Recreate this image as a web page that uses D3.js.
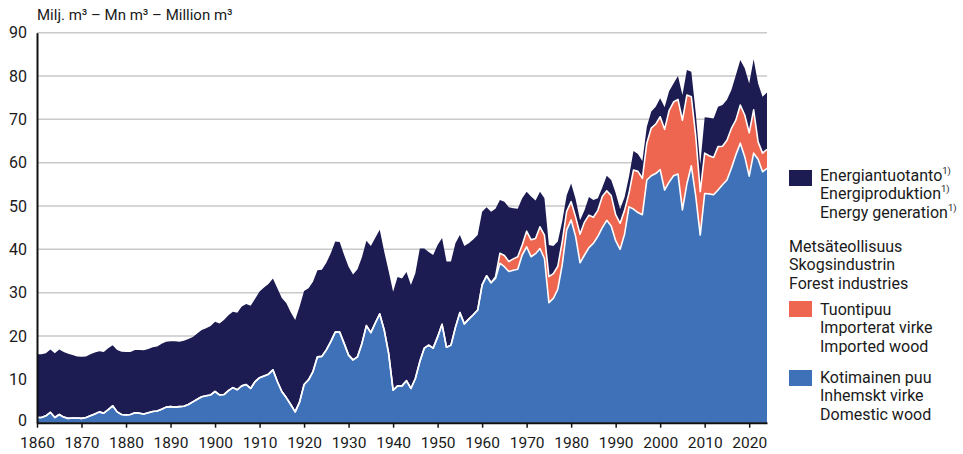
<!DOCTYPE html>
<html>
<head>
<meta charset="utf-8">
<script src="https://cdn.jsdelivr.net/npm/d3@7"></script>
<style>
  html, body { margin: 0; padding: 0; background: #fff; }
  text { font-family: Roboto, "Noto Sans", sans-serif; fill: #1a1a1a; }
</style>
</head>
<body>
<svg id="chart" width="963" height="454"></svg>
<script>
// ---- Data (million m³) ----
const years = d3.range(1860, 2025);
const domestic = [
  1.2,1.2,1.6,2.4,1.2,1.9,1.3,1.0,1.1,1.1,
  1.0,1.2,1.6,2.0,2.5,2.2,3.0,3.9,2.5,1.9,
  1.8,1.9,2.3,2.2,2.0,2.3,2.6,2.7,3.1,3.6,
  3.7,3.6,3.7,3.8,4.2,4.8,5.4,6.0,6.2,6.4,
  7.2,6.4,6.5,7.4,8.1,7.6,8.5,8.8,7.9,9.5,
  10.4,10.8,11.2,12.2,9.5,7.2,5.8,4.2,2.5,4.8,
  8.8,9.9,11.8,15.2,15.3,16.8,18.7,20.9,20.9,18.3,
  15.6,14.5,15.2,18.3,22.4,20.8,23.0,25.1,21.4,16.0,
  7.5,8.5,8.5,9.7,7.9,10.2,14.1,17.2,17.9,17.2,
  19.8,22.7,17.4,17.9,22.0,25.4,22.8,23.9,24.9,26.0,
  31.8,33.9,32.3,33.3,36.8,36.0,34.9,35.2,35.4,38.7,
  40.6,38.3,39.0,40.2,37.9,27.7,28.7,30.8,36.5,44.5,
  46.8,43.0,36.9,38.7,40.4,41.4,43.0,45.0,46.7,45.4,
  42.0,40.0,43.5,49.8,49.3,48.5,48.0,56.0,57.0,57.5,
  58.4,53.7,55.5,57.0,57.4,49.1,55.1,59.3,52.2,43.3,
  52.9,52.8,52.6,53.7,54.9,56.0,58.7,61.8,64.5,61.4,
  56.9,62.2,60.8,57.9,58.7
];
const imported = [
  0,0,0,0,0,0,0,0,0,0,
  0,0,0,0,0,0,0,0,0,0,
  0,0,0,0,0,0,0,0,0,0,
  0,0,0,0,0,0,0,0,0,0,
  0,0,0,0,0,0,0,0,0,0,
  0,0,0,0,0,0,0,0,0,0,
  0,0,0,0,0,0,0,0,0,0,
  0,0,0,0,0,0,0,0,0,0,
  0,0,0,0,0,0,0,0,0,0,
  0,0,0,0,0,0,0,0,0,0,
  0,0,0,0.3,2.3,2.6,2.3,2.6,2.9,2.3,
  3.6,3.9,3.5,5.0,5.4,6.0,5.7,5.3,5.3,4.3,
  4.2,4.5,6.6,7.6,7.5,6.0,6.0,7.2,6.8,7.0,
  6.0,6.0,5.5,3.2,9.0,9.5,8.4,8.5,11.0,11.4,
  12.2,14.0,16.5,17.0,17.2,20.7,20.5,15.9,13.8,10.0,
  9.3,8.8,8.6,10.0,8.9,9.2,9.2,8.0,8.8,9.6,
  10.0,10.0,4.0,4.3,4.4
];
const energy = [
  14.6,14.6,14.4,14.5,14.8,15.0,15.0,14.9,14.5,14.2,
  14.2,14.1,14.2,14.2,14.0,14.1,14.2,14.0,14.3,14.5,
  14.5,14.4,14.5,14.6,14.7,14.7,14.8,14.9,15.1,15.1,
  15.1,15.2,15.0,15.1,15.1,15.0,15.2,15.4,15.6,15.9,
  16.1,16.5,17.2,17.4,17.5,17.8,18.3,18.6,19.1,19.1,
  19.9,20.4,20.8,21.1,21.5,21.6,21.8,21.3,21.2,22.0,
  21.6,21.1,20.7,20.0,20.0,20.1,20.4,20.9,20.8,20.4,
  20.4,19.7,20.2,19.9,19.6,20.0,19.7,19.4,18.1,19.0,
  22.7,25.1,24.8,25.1,23.9,24.3,26.1,23.0,21.5,21.5,
  21.2,19.9,19.8,19.3,19.4,17.9,18.0,17.5,17.4,17.3,
  16.9,15.8,16.4,15.8,12.3,12.4,12.5,11.7,11.1,10.8,
  9.1,10.0,8.8,8.1,8.5,7.3,6.4,5.7,4.7,3.7,
  4.2,4.1,3.2,2.7,4.2,4.0,2.8,2.1,3.5,3.6,
  5.0,3.3,3.0,3.8,4.4,4.0,4.0,3.8,3.8,4.0,
  4.3,5.1,4.5,4.3,5.4,5.8,5.8,5.8,5.4,6.2,
  8.3,8.8,9.0,9.2,9.5,9.3,8.9,10.4,10.4,10.8,
  11.4,11.7,13.5,13.0,13.1
];
const yTicks = [0,10,20,30,40,50,60,70,80,90];
const xTicks = [1860,1870,1880,1890,1900,1910,1920,1930,1940,1950,1960,1970,1980,1990,2000,2010,2020];
const unitLabel = "Milj. m³ – Mn m³ – Million m³";
const legendEnergy = ["Energiantuotanto", "Energiproduktion", "Energy generation"];
const legendForest = ["Metsäteollisuus", "Skogsindustrin", "Forest industries"];
const legendImported = ["Tuontipuu", "Importerat virke", "Imported wood"];
const legendDomestic = ["Kotimainen puu", "Inhemskt virke", "Domestic wood"];

const colors = { domestic: "#3e71b7", imported: "#ee6650", energy: "#1c1b52" };

// ---- Build ----
const rows = years.map((y, i) => ({ year: y, domestic: domestic[i], imported: imported[i], energy: energy[i] }));
const keys = ["domestic", "imported", "energy"];
const series = d3.stack().keys(keys)(rows);

const svg = d3.select("#chart");
const L = 37, R = 767, T = 32.7, B = 422.7;
const x = d3.scaleLinear().domain([1860, 2024]).range([L, R]);
const y = d3.scaleLinear().domain([0, 90]).range([B, T]);

// gridlines
svg.append("g").selectAll("line").data(yTicks.filter(d => d > 0)).join("line")
  .attr("x1", L).attr("x2", R)
  .attr("y1", d => y(d)).attr("y2", d => y(d))
  .attr("stroke", "#c9c9c9").attr("stroke-width", 1.5);

// areas
const area = d3.area().x(d => x(d.data.year)).y0(d => y(d[0])).y1(d => y(d[1]));
svg.append("g").selectAll("path").data(series).join("path")
  .attr("d", area).attr("fill", s => colors[s.key]);

// white separator lines on top of domestic & imported
const topLine = d3.line().x(d => x(d.data.year)).y(d => y(d[1]));
svg.append("g").selectAll("path").data(series.slice(0, 2)).join("path")
  .attr("d", topLine).attr("fill", "none")
  .attr("stroke", "#fff").attr("stroke-width", 1.6).attr("stroke-linejoin", "round");

// y axis
const yAxis = svg.append("g").attr("transform", `translate(${L},0)`)
  .call(d3.axisLeft(y).tickValues(yTicks).tickSize(0).tickPadding(10));
yAxis.select(".domain").attr("stroke", "#111").attr("stroke-width", 2);
yAxis.selectAll("text").attr("font-size", 16).attr("fill", "#1a1a1a")
  .style("font-family", "Roboto, sans-serif");
yAxis.selectAll(".tick").filter(d => d === 0).select("text").attr("dy", "0.2em");

// x axis
const xAxis = svg.append("g").attr("transform", `translate(0,${B})`)
  .call(d3.axisBottom(x).tickValues(xTicks).tickFormat(d3.format("d")).tickSize(5).tickSizeOuter(0).tickPadding(9));
xAxis.select(".domain").attr("stroke", "#111").attr("stroke-width", 2);
xAxis.selectAll(".tick line").attr("stroke", "#111").attr("stroke-width", 1.5);
xAxis.selectAll("text").attr("font-size", 15.5).attr("fill", "#1a1a1a")
  .style("font-family", "Roboto, sans-serif");

// unit label
svg.append("text").attr("x", 37).attr("y", 20).attr("font-size", 15).text(unitLabel);

// legend
const lg = svg.append("g");
function block(lines, tx, y0, sup) {
  lines.forEach((t, i) => {
    const el = lg.append("text").attr("x", tx).attr("y", y0 + i * 18.3).attr("font-size", 16);
    el.append("tspan").text(t);
    if (sup) el.append("tspan").attr("font-size", 9.5).attr("dy", -7).text("1)");
  });
}
lg.append("rect").attr("x", 789).attr("y", 170).attr("width", 23).attr("height", 16).attr("fill", colors.energy);
block(legendEnergy, 820, 181, true);
block(legendForest, 789, 252, false);
lg.append("rect").attr("x", 789).attr("y", 301).attr("width", 23).attr("height", 16).attr("fill", colors.imported);
block(legendImported, 820, 315, false);
lg.append("rect").attr("x", 789).attr("y", 370).attr("width", 23).attr("height", 16).attr("fill", colors.domestic);
block(legendDomestic, 820, 383, false);
</script>
</body>
</html>
